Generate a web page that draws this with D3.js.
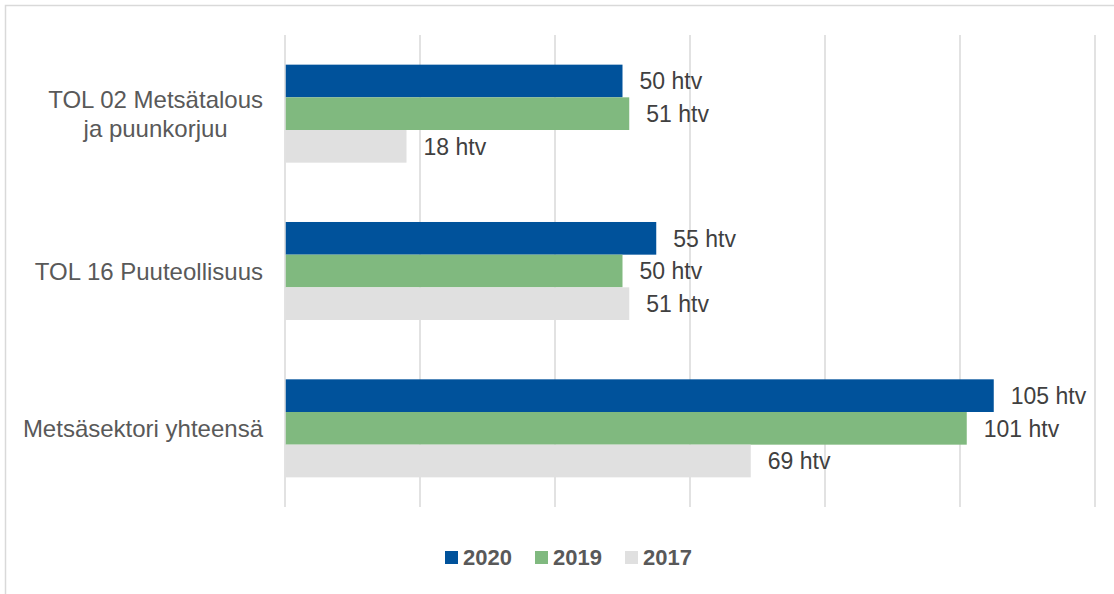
<!DOCTYPE html>
<html>
<head>
<meta charset="utf-8">
<script src="https://cdn.jsdelivr.net/npm/d3@7"></script>
<style>
  body { margin: 0; background: #fff; }
  text { font-family: "Liberation Sans", Arial, sans-serif; }
</style>
</head>
<body>
<div id="chart"></div>
<script>
const categories = [
  ["TOL 02 Metsätalous", "ja puunkorjuu"],
  ["TOL 16 Puuteollisuus"],
  ["Metsäsektori yhteensä"]
]
const years = ["2020", "2019", "2017"]
const values2020 = [50, 55, 105]
const values2019 = [51, 50, 101]
const values2017 = [18, 51, 69]
const xTicks = [0, 20, 40, 60, 80, 100, 120]
const colors = ["#00529b", "#80b97f", "#e0e0e0"]

const W = 1114, H = 594
const MARGIN = { LEFT: 285, RIGHT: 19, TOP: 35, BOTTOM: 87 }
const WIDTH = W - MARGIN.LEFT - MARGIN.RIGHT
const HEIGHT = H - MARGIN.TOP - MARGIN.BOTTOM

const series = [values2020, values2019, values2017]
const catKeys = categories.map(c => c.join(" "))

const svg = d3.select("#chart").append("svg")
  .attr("width", W)
  .attr("height", H)

// chart frame (runs off the right and bottom edge)
svg.append("rect")
  .attr("x", 5.5).attr("y", 5.5)
  .attr("width", W + 20).attr("height", H + 20)
  .attr("fill", "#fff")
  .attr("stroke", "#d9d9d9")
  .attr("stroke-width", 1.5)

const g = svg.append("g")
  .attr("transform", `translate(${MARGIN.LEFT}, ${MARGIN.TOP})`)

// scales
const x = d3.scaleLinear().domain([0, 120]).range([0, WIDTH])
const y0 = d3.scaleBand().domain(catKeys).range([0, HEIGHT]).paddingInner(0.377).paddingOuter(0.1885)
const y1 = d3.scaleBand().domain(years).range([0, y0.bandwidth()])

// gridlines
g.selectAll(".grid").data(xTicks)
  .enter().append("line")
  .attr("class", "grid")
  .attr("x1", d => x(d)).attr("x2", d => x(d))
  .attr("y1", 0).attr("y2", HEIGHT)
  .attr("stroke", "#d9d9d9")
  .attr("stroke-width", 1.5)

// bars
const groups = g.selectAll(".cat").data(catKeys)
  .enter().append("g")
  .attr("class", "cat")
  .attr("transform", d => `translate(0, ${y0(d)})`)

groups.each(function (c, i) {
  const grp = d3.select(this)
  years.forEach((yr, j) => {
    const v = series[j][i]
    grp.append("rect")
      .attr("x", x(0) + 0.75)
      .attr("y", y1(yr))
      .attr("width", x(v) - x(0) - 0.75)
      .attr("height", y1.bandwidth())
      .attr("fill", colors[j])
    grp.append("text")
      .attr("x", x(v) + 17)
      .attr("y", y1(yr) + y1.bandwidth() / 2)
      .attr("dy", "0.36em")
      .attr("font-size", "23px")
      .attr("fill", "#404040")
      .text(`${v} htv`)
  })
})

// category labels
const labelRight = MARGIN.LEFT - 22
categories.forEach((lines, i) => {
  const cy = MARGIN.TOP + y0(catKeys[i]) + y0.bandwidth() / 2
  const t = svg.append("text")
    .attr("font-size", "24px")
    .attr("fill", "#595959")
    .attr("text-anchor", "middle")
  lines.forEach((ln, k) => {
    t.append("tspan")
      .attr("dy", k === 0 ? `${0.36 - (lines.length - 1) * 0.6}em` : "1.2em")
      .text(ln)
  })
  // centre the block so its widest line ends at labelRight
  let maxW = 0
  t.selectAll("tspan").each(function () { maxW = Math.max(maxW, this.getComputedTextLength()) })
  t.attr("y", cy)
  t.selectAll("tspan").attr("x", labelRight - maxW / 2)
})

// legend
const legend = svg.append("g")
const legendX = [445, 535, 625]
years.forEach((yr, j) => {
  legend.append("rect")
    .attr("x", legendX[j]).attr("y", 551)
    .attr("width", 13).attr("height", 13)
    .attr("fill", colors[j])
  legend.append("text")
    .attr("x", legendX[j] + 18).attr("y", 557.5)
    .attr("dy", "0.36em")
    .attr("font-size", "22px")
    .attr("font-weight", "bold")
    .attr("fill", "#595959")
    .text(yr)
})
</script>
</body>
</html>
